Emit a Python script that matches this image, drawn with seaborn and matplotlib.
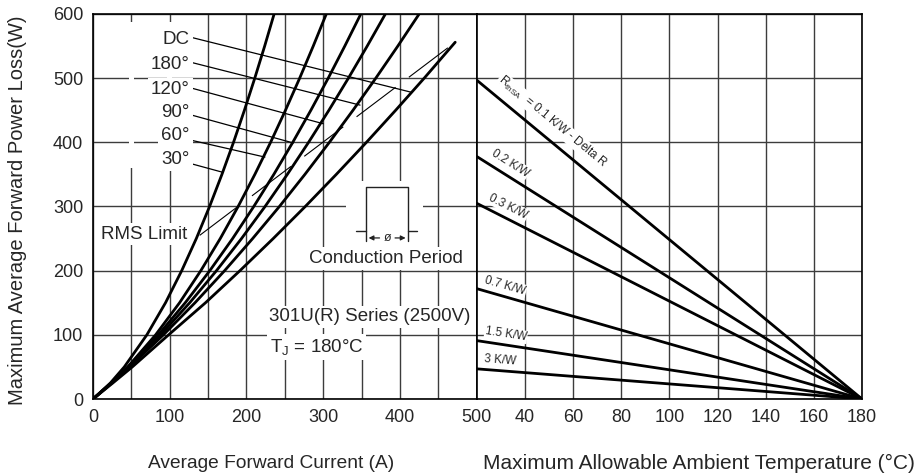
import math
import matplotlib
matplotlib.use("Agg")
import matplotlib.pyplot as plt
from matplotlib.patches import Rectangle
import pandas as pd
import seaborn as sns

# left panel: average forward current (A) read at each power loss level (W)
power_levels = [0, 25, 50, 100, 150, 200, 250, 300, 350, 400, 450, 500, 550, 600]
current_30 = [0, 22.7, 40.8, 70.2, 94.5, 115.6, 134.6, 151.9, 168, 183.1, 197.3, 210.8, 223.7, 236]
current_60 = [0, 24.2, 45.3, 81.6, 112.8, 140.5, 165.8, 189.1, 210.9, 231.4, 250.8, 269.3, 287, 304]
current_90 = [0, 23.8, 45.7, 85.1, 120.2, 152.2, 181.9, 209.5, 235.6, 260.3, 283.9, 306.5, 328.1, 349]
current_120 = [0, 24.1, 46.7, 88.2, 126, 160.9, 193.5, 224.2, 253.2, 280.9, 307.4, 332.8, 357.3, 381]
current_180 = [0, 24.4, 47.8, 91.8, 132.9, 171.5, 208, 242.9, 276.1, 308, 338.8, 368.5, 397.2, 425]
current_dc = [0, 25.9, 51.2, 98.5, 146.6, 191.5, 234.8, 276.6, 317, 356.3, 394.4, 431.6, 472]
power_dc = [0, 25, 50, 100, 150, 200, 250, 300, 350, 400, 450, 500, 556]
conduction_labels = ["30°", "60°", "90°", "120°", "180°", "DC"]

# RMS current limit
rms_current = [139, 472]
rms_power = [255, 556]

# right panel: power loss vs ambient temperature per sink resistance
ambient_temp = [20, 180]
rth_labels = ["0.1", "0.2", "0.3", "0.7", "1.5", "3"]
power_at_20c = [497, 378, 305, 172, 91, 47]

sns.set_style("white")
plt.rcParams["font.family"] = ["Liberation Sans", "DejaVu Sans"]
plt.rcParams["mathtext.fontset"] = "custom"
plt.rcParams["mathtext.rm"] = "Liberation Sans"
plt.rcParams["mathtext.it"] = "Liberation Sans:italic"

rows = []
curves = [current_30, current_60, current_90, current_120, current_180, current_dc]
for name, cur in zip(conduction_labels, curves):
    pw = power_dc if name == "DC" else power_levels
    for c, p in zip(cur, pw):
        rows.append({"curve": name, "current": c, "power": p})
loss_df = pd.DataFrame(rows)

rows = []
for r, p0 in zip(rth_labels, power_at_20c):
    rows.append({"rth": r, "temp": ambient_temp[0], "power": p0})
    rows.append({"rth": r, "temp": ambient_temp[1], "power": 0})
temp_df = pd.DataFrame(rows)

fig = plt.figure(figsize=(9.24, 4.76), dpi=100)
ax1 = fig.add_axes([93 / 924, 77 / 476, 383.7 / 924, 385 / 476])
ax2 = fig.add_axes([476.7 / 924, 77 / 476, 385.3 / 924, 385 / 476], sharey=ax1)

grid_kw = dict(color="#3c3c3c", lw=1.0)
for ax in (ax1, ax2):
    ax.set_axisbelow(True)
    ax.grid(which="both", **grid_kw)
    for sp in ax.spines.values():
        sp.set_color("black")
        sp.set_linewidth(1.2)
    ax.tick_params(which="both", length=0, labelsize=13, pad=7)

ax1.set_xlim(0, 500)
ax1.set_ylim(0, 600)
ax1.set_xticks(range(0, 501, 100))
ax1.set_xticks(range(50, 500, 100), minor=True)
ax1.set_yticks(range(0, 601, 100))
ax2.set_xlim(20, 180)
ax2.set_xticks(range(40, 181, 20))
ax2.tick_params(labelleft=False)

# curves
sns.lineplot(data=loss_df, x="current", y="power", units="curve", estimator=None,
             color="black", lw=2.0, sort=False, ax=ax1, legend=False)
ax1.plot(rms_current, rms_power, color="black", lw=0.8, linestyle=(0, (44, 15)))
sns.lineplot(data=temp_df, x="temp", y="power", units="rth", estimator=None,
             color="black", lw=2.0, ax=ax2, legend=False)
for ax in (ax1, ax2):
    ax.set_xlabel("")
    ax.set_ylabel("")

# break the vertical gridlines behind the label column
for gx in (50, 100):
    ax1.add_patch(Rectangle((gx - 3, 360), 6, 228, fc="white", ec="none", zorder=1))

wbox = dict(boxstyle="square,pad=0.15", fc="white", ec="none")
label_y = [373, 411, 447, 483, 522, 561]
leaders = [((127, 367), (170, 353)), ((129, 403), (224, 377)), ((130, 442), (261, 399)),
           ((130, 484), (300, 429)), ((130, 524), (348, 458)), ((130, 563), (415, 478))]
for name, ly, (p0, p1) in zip(conduction_labels, label_y, leaders):
    ax1.text(126, ly, name, ha="right", va="center", fontsize=13.5, bbox=wbox, zorder=3)
    ax1.plot([p0[0], p1[0]], [p0[1], p1[1]], color="black", lw=0.9, zorder=2)

ax1.text(66, 257, "RMS Limit", ha="center", va="center", fontsize=13.5, bbox=wbox, zorder=3)

# conduction period icon
ax1.add_patch(Rectangle((330, 236), 100, 104, fc="white", ec="none", zorder=1))
ic = dict(color="#222222", lw=1.0, zorder=2)
ax1.plot([355.5, 355.5, 411, 411], [247, 330, 330, 247], **ic)
ax1.plot([343, 355.5], [261.7, 261.7], **ic)
ax1.plot([411, 422], [261.7, 261.7], **ic)
arr = dict(arrowstyle="-|>", color="#222222", lw=0.9, mutation_scale=7)
ax1.annotate("", xy=(355.5, 251), xytext=(377, 251), arrowprops=arr)
ax1.annotate("", xy=(411, 251), xytext=(390, 251), arrowprops=arr)
ax1.text(383.5, 251, "ø", ha="center", va="center", fontsize=9)
ax1.text(382, 219, "Conduction Period", ha="center", va="center", fontsize=13.5,
         bbox=wbox, zorder=3)

ax1.text(229, 128, "301U(R) Series (2500V)", ha="left", va="center", fontsize=13.5,
         bbox=wbox, zorder=3)
ax1.text(230, 81, r"T$_\mathrm{J}$ = 180°C", ha="left", va="center", fontsize=13.5,
         bbox=wbox, zorder=3)


def line_angle(ax, x0, y0, x1, y1):
    a = ax.transData.transform((x0, y0))
    b = ax.transData.transform((x1, y1))
    return math.degrees(math.atan2(b[1] - a[1], b[0] - a[0]))


rth_text = [r"R$_\mathrm{thSA}$  = 0.1 K/W - Delta R", "0.2 K/W", "0.3 K/W",
            "0.7 K/W", "1.5 K/W", "3 K/W"]
rth_pos = [(28.6, 496), (25.9, 381), (24.8, 310), (23.2, 181), (23.3, 101), (23.2, 57)]
sbox = dict(boxstyle="square,pad=0.05", fc="white", ec="none")
for txt, p0, (tx, ty) in zip(rth_text, power_at_20c, rth_pos):
    ang = line_angle(ax2, ambient_temp[0], p0, ambient_temp[1], 0)
    ax2.text(tx, ty, txt, rotation=ang, rotation_mode="anchor", ha="left",
             va="baseline", fontsize=8.5, bbox=sbox, zorder=3)

fig.text(271.5 / 924, 13 / 476, "Average Forward Current (A)", ha="center",
         va="center", fontsize=13.8)
fig.text(699 / 924, 13 / 476, "Maximum Allowable Ambient Temperature (°C)",
         ha="center", va="center", fontsize=15)
fig.text(18 / 924, 266 / 476, "Maximum Average Forward Power Loss(W)", rotation=90,
         ha="center", va="center", fontsize=14.5)

fig.savefig("out.png", dpi=100)
